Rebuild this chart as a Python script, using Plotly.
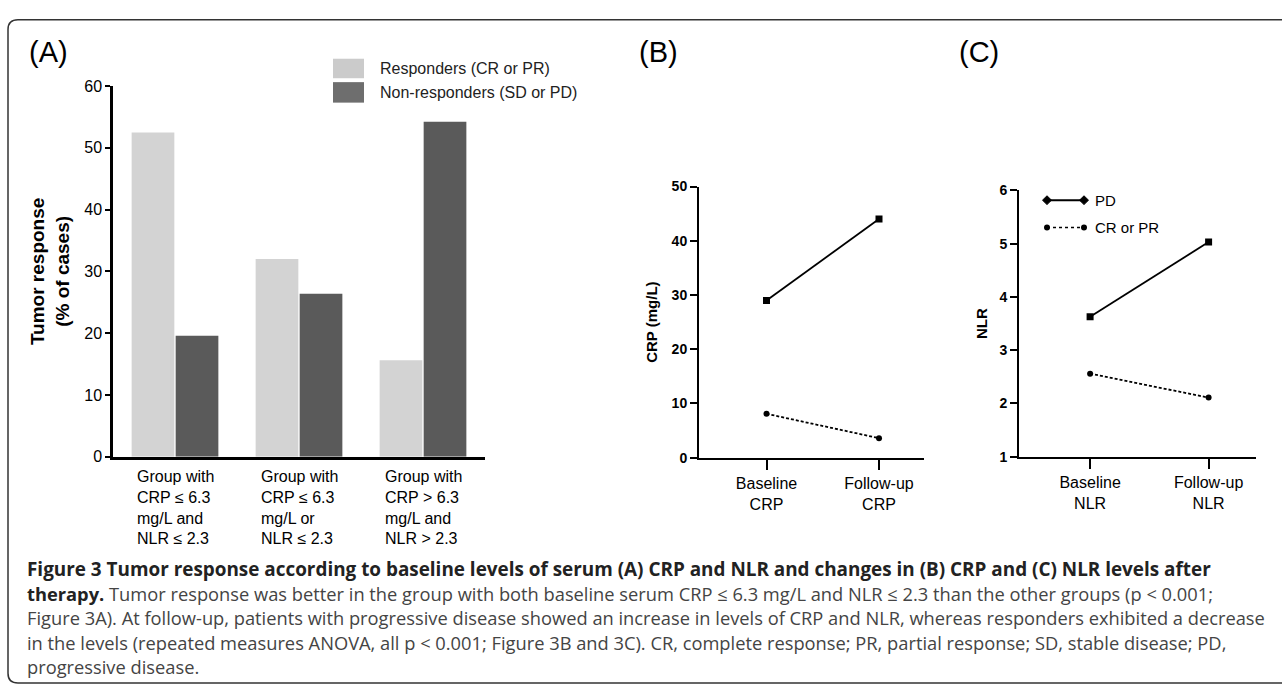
import plotly.graph_objects as go

# ---------------- data ----------------
groups = [
    "Group with<br>CRP ≤ 6.3<br>mg/L and<br>NLR ≤ 2.3",
    "Group with<br>CRP ≤ 6.3<br>mg/L or<br>NLR ≤ 2.3",
    "Group with<br>CRP &gt; 6.3<br>mg/L and<br>NLR &gt; 2.3",
]
responders = [52.5, 32.0, 15.6]
nonresponders = [19.6, 26.4, 54.2]

crp_times = ["Baseline<br>CRP", "Follow-up<br>CRP"]
crp_pd = [29.0, 44.0]
crp_cr = [8.1, 3.6]

nlr_times = ["Baseline<br>NLR", "Follow-up<br>NLR"]
nlr_pd = [3.63, 5.03]
nlr_cr = [2.56, 2.11]

caption_lines = [
    "<b>Figure 3 Tumor response according to baseline levels of serum (A) CRP and NLR and changes in (B) CRP and (C) NLR levels after</b>",
    "<b><span style='color:#222222'>therapy.</span></b> Tumor response was better in the group with both baseline serum CRP ≤ 6.3 mg/L and NLR ≤ 2.3 than the other groups (p &lt; 0.001;",
    "Figure 3A). At follow-up, patients with progressive disease showed an increase in levels of CRP and NLR, whereas responders exhibited a decrease",
    "in the levels (repeated measures ANOVA, all p &lt; 0.001; Figure 3B and 3C). CR, complete response; PR, partial response; SD, stable disease; PD,",
    "progressive disease.",
]

# ---------------- layout helpers ----------------
W, H = 1282, 694
def px(x):
    return x / W
def py(y):
    return 1 - y / H

FONT = "Liberation Sans, Arial, sans-serif"
CAP_FONT = "Open Sans, sans-serif"
LIGHT = "#d3d3d3"
DARK = "#5a5a5a"

fig = go.Figure()

# Panel A bars
fig.add_trace(go.Bar(x=groups, y=responders, name="Responders (CR or PR)",
                     marker=dict(color=LIGHT, line=dict(width=0)),
                     xaxis="x", yaxis="y", showlegend=False))
fig.add_trace(go.Bar(x=groups, y=nonresponders, name="Non-responders (SD or PD)",
                     marker=dict(color=DARK, line=dict(width=0)),
                     xaxis="x", yaxis="y", showlegend=False))

# Panel B lines
fig.add_trace(go.Scatter(x=crp_times, y=crp_pd, mode="lines+markers", name="PD",
                         line=dict(color="black", width=1.8),
                         marker=dict(symbol="square", size=7, color="black"),
                         xaxis="x2", yaxis="y2", showlegend=False))
fig.add_trace(go.Scatter(x=crp_times, y=crp_cr, mode="lines+markers", name="CR or PR",
                         line=dict(color="black", width=1.8, dash="3px,2px"),
                         marker=dict(symbol="circle", size=6, color="black"),
                         xaxis="x2", yaxis="y2", showlegend=False))

# Panel C lines
fig.add_trace(go.Scatter(x=nlr_times, y=nlr_pd, mode="lines+markers", name="PD",
                         line=dict(color="black", width=1.8),
                         marker=dict(symbol="square", size=7, color="black"),
                         xaxis="x3", yaxis="y3", showlegend=False))
fig.add_trace(go.Scatter(x=nlr_times, y=nlr_cr, mode="lines+markers", name="CR or PR",
                         line=dict(color="black", width=1.8, dash="3px,2px"),
                         marker=dict(symbol="circle", size=6, color="black"),
                         xaxis="x3", yaxis="y3", showlegend=False))

axis_common = dict(showgrid=False, zeroline=False, showline=True, linecolor="black")

fig.update_layout(
    width=W, height=H,
    margin=dict(l=0, r=0, t=0, b=0),
    paper_bgcolor="white", plot_bgcolor="rgba(0,0,0,0)",
    barmode="group", bargap=0.29, bargroupgap=0.03,
    font=dict(family=FONT, color="black"),
    xaxis=dict(domain=[px(113), px(485)], range=[-0.5, 2.5], type="category",
               linewidth=3, ticks="", showticklabels=False,
               anchor="y", **axis_common),
    yaxis=dict(domain=[py(460), py(80)], range=[0, 60], tickvals=[0, 10, 20, 30, 40, 50, 60],
               linewidth=2.5, ticks="outside", ticklen=5, tickwidth=2, tickcolor="black",
               tickfont=dict(size=16, family=FONT), anchor="x",
               title=dict(text="<b>Tumor response</b><br><b>(% of cases)</b>",
                          font=dict(size=19, family=FONT), standoff=10),
               **axis_common),
    xaxis2=dict(domain=[px(699), px(924)], range=[-0.6, 1.4], type="category",
                linewidth=2, ticks="outside", ticklen=10, tickwidth=2, tickcolor="black",
                tickfont=dict(size=16, family=FONT), anchor="y2", **axis_common),
    yaxis2=dict(domain=[py(461), py(183)], range=[0, 50], tickvals=[0, 10, 20, 30, 40, 50],
                linewidth=2, ticks="outside", ticklen=7, tickwidth=2, tickcolor="black",
                tickfont=dict(size=14, family=FONT, weight="bold"), anchor="x2",
                title=dict(text="<b>CRP (mg/L)</b>", font=dict(size=15, family=FONT), standoff=10),
                **axis_common),
    xaxis3=dict(domain=[px(1019), px(1256)], range=[-0.6, 1.4], type="category",
                linewidth=2, ticks="outside", ticklen=10, tickwidth=2, tickcolor="black",
                tickfont=dict(size=16, family=FONT), anchor="y3", **axis_common),
    yaxis3=dict(domain=[py(460), py(187)], range=[1, 6], tickvals=[1, 2, 3, 4, 5, 6],
                linewidth=2, ticks="outside", ticklen=7, tickwidth=2, tickcolor="black",
                tickfont=dict(size=14, family=FONT, weight="bold"), anchor="x3",
                title=dict(text="<b>NLR</b>", font=dict(size=15, family=FONT), standoff=8),
                **axis_common),
)

shapes = []
# outer rounded frame
r = 10
x0, y0, x1, y1 = 8, 12, 1300, 692
path = (f"M {px(x1)},{py(y0)} L {px(x0 + r)},{py(y0)} Q {px(x0)},{py(y0)} {px(x0)},{py(y0 + r)} "
        f"L {px(x0)},{py(y1 - r)} Q {px(x0)},{py(y1)} {px(x0 + r)},{py(y1)} L {px(x1)},{py(y1)}")
shapes.append(dict(type="path", path=path, xref="paper", yref="paper",
                   line=dict(color="#333333", width=1.5)))

# legend for panel A
shapes.append(dict(type="rect", xref="paper", yref="paper",
                   x0=px(333), x1=px(364), y0=py(72), y1=py(52),
                   fillcolor="#cbcbcb", line=dict(width=0)))
shapes.append(dict(type="rect", xref="paper", yref="paper",
                   x0=px(333), x1=px(364), y0=py(97), y1=py(76),
                   fillcolor="#6e6e6e", line=dict(width=0)))

# legend for panel C
lx0, lx1 = 1047, 1084
ly_pd, ly_cr = 197, 225
shapes.append(dict(type="line", xref="paper", yref="paper",
                   x0=px(lx0), x1=px(lx1), y0=py(ly_pd), y1=py(ly_pd),
                   line=dict(color="black", width=2)))
shapes.append(dict(type="line", xref="paper", yref="paper",
                   x0=px(lx0), x1=px(lx1), y0=py(ly_cr), y1=py(ly_cr),
                   line=dict(color="black", width=1.5, dash="dot")))
for cx in (lx0, lx1):
    d = 4.5
    shapes.append(dict(type="path", xref="paper", yref="paper",
                       path=(f"M {px(cx - d)},{py(ly_pd)} L {px(cx)},{py(ly_pd - d)} "
                             f"L {px(cx + d)},{py(ly_pd)} L {px(cx)},{py(ly_pd + d)} Z"),
                       fillcolor="black", line=dict(color="black", width=1)))
    rr = 3
    shapes.append(dict(type="circle", xref="paper", yref="paper",
                       x0=px(cx - rr), x1=px(cx + rr), y0=py(ly_cr + rr), y1=py(ly_cr - rr),
                       fillcolor="black", line=dict(color="black", width=0)))

annotations = []
# category labels of panel A (left-aligned lines, centred under each group)
for g in groups:
    annotations.append(dict(text=g, x=g, xref="x", y=py(469), yref="paper",
                            xanchor="center", yanchor="top", align="left", showarrow=False,
                            font=dict(size=16, family=FONT, color="black")))
# panel letters
for label, xpos in (("(A)", 27), ("(B)", 637), ("(C)", 957)):
    annotations.append(dict(text=label, x=px(xpos), y=py(45), xref="paper", yref="paper",
                            xanchor="left", yanchor="middle", showarrow=False,
                            font=dict(size=29, family=FONT, color="black")))
# legend texts
annotations.append(dict(text="Responders (CR or PR)", x=px(378), y=py(62), xref="paper", yref="paper",
                        xanchor="left", yanchor="middle", showarrow=False,
                        font=dict(size=16, family=FONT, color="#222222")))
annotations.append(dict(text="Non-responders (SD or PD)", x=px(378), y=py(87), xref="paper", yref="paper",
                        xanchor="left", yanchor="middle", showarrow=False,
                        font=dict(size=16, family=FONT, color="#222222")))
annotations.append(dict(text="PD", x=px(1093), y=py(ly_pd), xref="paper", yref="paper",
                        xanchor="left", yanchor="middle", showarrow=False,
                        font=dict(size=15, family=FONT, color="black")))
annotations.append(dict(text="CR or PR", x=px(1093), y=py(ly_cr), xref="paper", yref="paper",
                        xanchor="left", yanchor="middle", showarrow=False,
                        font=dict(size=15, family=FONT, color="black")))

# caption, one annotation per line
for i, line in enumerate(caption_lines):
    size = 18.9 if i == 0 else 18.3
    color = "#222222" if i == 0 else "#444444"
    annotations.append(dict(text=line, x=px(25), y=py(575 + 25 * i), xref="paper", yref="paper",
                            xanchor="left", yanchor="middle", align="left", showarrow=False,
                            font=dict(size=size, family=CAP_FONT, color=color)))

fig.update_layout(shapes=shapes, annotations=annotations)

fig.write_html("out.html",
               config={"displayModeBar": False},
               post_script="document.body.style.margin='0';document.body.style.overflow='hidden';")
